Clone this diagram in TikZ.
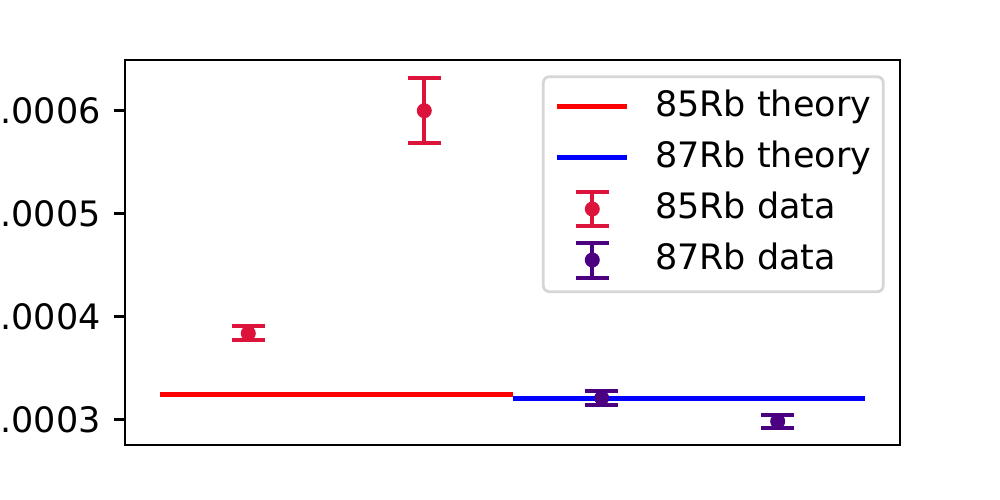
\documentclass[tikz,border=0pt]{standalone}
\usepackage{fontspec}
\setmainfont{DejaVu Sans}
\definecolor{crimsonc}{HTML}{DC143C}
\definecolor{indigoc}{HTML}{4B0082}
\definecolor{legendedge}{HTML}{D6D6D6}
\newcommand{\myerrbar}[5]{%
  \draw[line width=1.5pt,#5] (#1,#2) -- (#1,#4);
  \draw[line width=1.5pt,#5] (#1-16.7,#2) -- (#1+16.7,#2);
  \draw[line width=1.5pt,#5] (#1-16.7,#4) -- (#1+16.7,#4);
  \fill[#5] (#1,#3) circle[radius=2.7pt];
}
\tikzset{
  ticklab/.style={anchor=east,inner sep=0pt,font=\fontsize{12.6}{15}\selectfont},
  leglab/.style={anchor=base west,inner sep=0pt,font=\fontsize{12.6}{15}\selectfont},
  theory/.style={line width=1.8pt},
}
\begin{document}
\begin{tikzpicture}[x=0.36pt,y=-0.36pt]
\useasboundingbox (0,0) rectangle (1000,500);
\fill[white] (0,0) rectangle (1000,500);
% theory lines
\draw[theory,red] (160,394.3) coordinate (r1) -- (513.3,394.3) coordinate (r2);
\draw[theory,blue] (513.3,398.3) coordinate (b1) -- (865,398.3) coordinate (b2);
% data
\myerrbar{424.3}{78.3}{110.7}{142.7}{crimsonc}
\myerrbar{248.3}{326}{333.3}{339.7}{crimsonc}
\myerrbar{601.7}{391.3}{398}{404.7}{indigoc}
\myerrbar{777.7}{414.7}{421.3}{428}{indigoc}
% axes
\draw[line width=1pt] (125,60) rectangle (900,445);
\foreach \yy/\nm/\lab in {110.3/a/.0006, 213.3/b/.0005, 316.3/c/.0004, 419.3/d/.0003}{
  \draw[line width=1pt] (114,\yy) -- (125,\yy);
  \node[ticklab] (t\nm) at (101.3,\yy) {\lab};
}
% legend
\draw[line width=1pt,legendedge,fill=white,rounded corners=2.2pt] (543.3,76.7) rectangle (883.3,291.7);
\draw[theory,red] (557.3,106.7) -- (626.7,106.7);
\draw[theory,blue] (557.3,157.3) -- (626.7,157.3);
\myerrbar{592.3}{191.7}{209}{225.7}{crimsonc}
\myerrbar{592.3}{242.7}{260}{278.3}{indigoc}
\node[leglab] (l1) at (654.5,116.7) {85Rb theory};
\node[leglab] (l2) at (654.5,167.7) {87Rb theory};
\node[leglab] (l3) at (654.5,218.3) {85Rb data};
\node[leglab] (l4) at (654.5,269.3) {87Rb data};
\end{tikzpicture}
\end{document}
